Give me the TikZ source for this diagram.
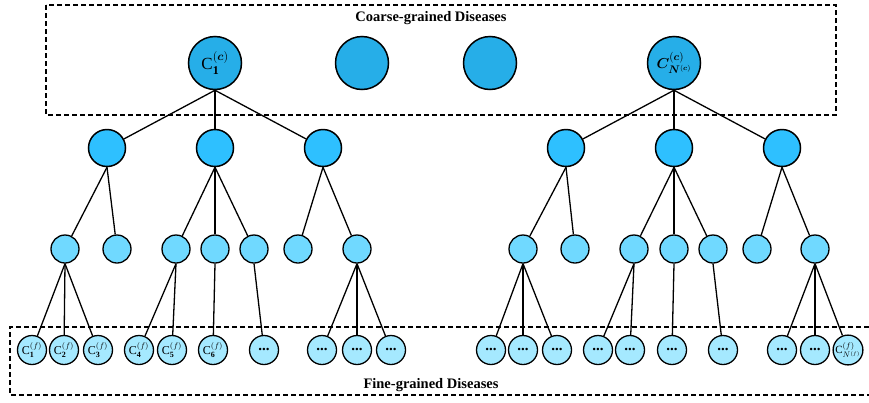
\documentclass[tikz,border=0pt]{standalone}
\usepackage{amsmath}
\usepackage{bm}
\usepackage{fontspec}
\setmainfont{Liberation Serif}
\usetikzlibrary{positioning}

\definecolor{coarseblue}{RGB}{38,174,232}
\definecolor{midblue}{RGB}{46,192,255}
\definecolor{subblue}{RGB}{112,217,255}
\definecolor{fineblue}{RGB}{165,233,255}

\tikzset{
  coarsenode/.style={circle,draw,line width=1.5pt,fill=coarseblue,minimum size=53pt,inner sep=0pt},
  midnode/.style={circle,draw,line width=1.5pt,fill=midblue,minimum size=37pt,inner sep=0pt},
  subnode/.style={circle,draw,line width=1.3pt,fill=subblue,minimum size=28pt,inner sep=0pt},
  finenode/.style={circle,draw,line width=1.3pt,fill=fineblue,minimum size=29pt,inner sep=0pt,font=\fontsize{12}{12}\selectfont},
  link/.style={line width=1.3pt},
  groupbox/.style={line width=1.2pt,dash pattern=on 5pt off 3pt},
  grouptitle/.style={font=\fontsize{14.5}{14.5}\selectfont\bfseries}
}

\begin{document}
\begin{tikzpicture}[x=1pt,y=-1pt]
\useasboundingbox (0,0) rectangle (869,402);
% coarse level
\draw [groupbox] (46,5) rectangle (836,115);
\node [grouptitle] (coarsetitle) at (431,18) {Coarse-grained Diseases};
\node [coarsenode,font=\fontsize{17}{17}\selectfont] (c1) at (215,63) {$\mathrm{C}^{(\boldsymbol{c})}_{\mathbf{1}}$};
\node [coarsenode] (c2) at (362,63) {};
\node [coarsenode] (c3) at (490,63) {};
\node [coarsenode,font=\fontsize{15}{15}\selectfont] (c4) at (674,63) {$\boldsymbol{C}^{(\boldsymbol{c})}_{\boldsymbol{N}^{(\boldsymbol{c})}}$};
% middle levels
\foreach \x/\n in {107/1,215/2,323/3,566/4,674/5,782/6}
  \node [midnode] (m\n) at (\x,148) {};
\foreach \x/\n in {65/1,117/2,176/3,215/4,254/5,298/6,357/7,523/8,575/9,634/10,674/11,713/12,757/13,815/14}
  \node [subnode] (s\n) at (\x,249) {};
% fine level
\draw [groupbox] (869,327) -- (10,327) -- (10,395) -- (869,395);
\node [grouptitle] (finetitle) at (431,385) {Fine-grained Diseases};
\foreach \x/\n/\i in {32/1/1,64/2/2,98/3/3,139/4/4,172/5/5,213/6/6}
  \node [finenode] (f\n) at (\x,350) {$\mathrm{C}^{(f)}_{\mathbf{\i}}$};
\foreach \x/\n in {264/7,322/8,357/9,391/10,491/11,523/12,557/13,598/14,630/15,672/16,723/17,782/18,815/19}
  \node [finenode,font=\fontsize{15}{15}\selectfont\bfseries] (f\n) at (\x,350) {\raisebox{1pt}{...}};
\node [finenode,font=\fontsize{11}{11}\selectfont] (f20) at (848,350) {$\mathrm{C}^{(f)}_{N^{(f)}}$};
% links
\foreach \p/\c in {c1/m1,c1/m2,c1/m3,c4/m4,c4/m5,c4/m6,
  m1/s1,m1/s2,m2/s3,m2/s4,m2/s5,m3/s6,m3/s7,
  m4/s8,m4/s9,m5/s10,m5/s11,m5/s12,m6/s13,m6/s14,
  s1/f1,s1/f2,s1/f3,s3/f4,s3/f5,s4/f6,s5/f7,s7/f8,s7/f9,s7/f10,
  s8/f11,s8/f12,s8/f13,s10/f14,s10/f15,s11/f16,s12/f17,s14/f18,s14/f19,s14/f20}
  \draw [link] (\p.south) -- (\c);
\end{tikzpicture}
\end{document}
